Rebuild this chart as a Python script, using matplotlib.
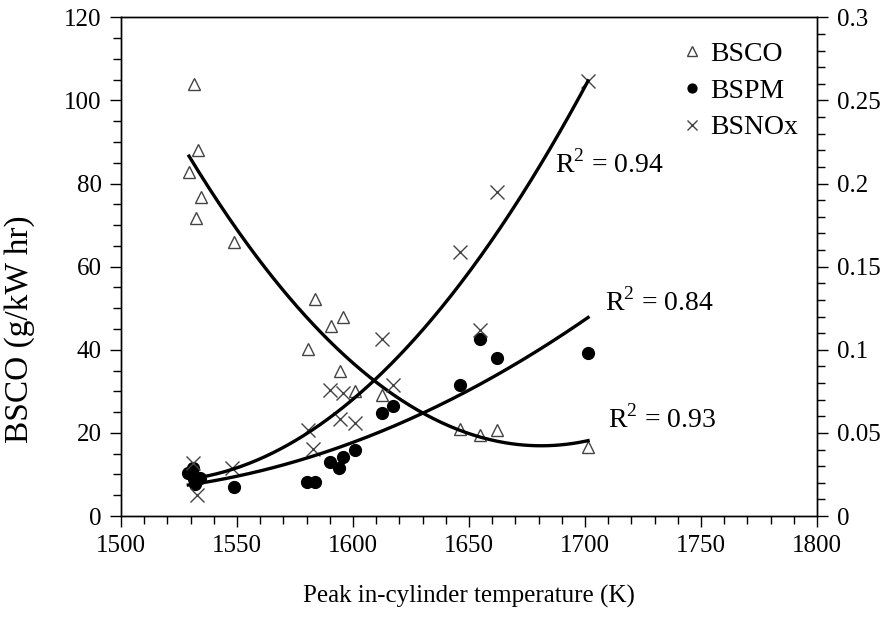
import numpy as np
import matplotlib
matplotlib.use("Agg")
import matplotlib.pyplot as plt
from matplotlib.ticker import MultipleLocator

plt.rcParams.update({
    "font.family": "Liberation Serif", "font.size": 18,
    "mathtext.fontset": "custom", "mathtext.rm": "Liberation Serif",
    "axes.linewidth": 1.0,
})

# BSCO (left axis, g/kW hr)
co_T = [1531.5, 1533.2, 1529.3, 1534.5, 1532.3, 1548.7, 1583.6, 1595.7, 1590.5,
        1580.6, 1594.4, 1600.9, 1612.5, 1646.1, 1654.7, 1662.0, 1701.3]
co_v = [103.9, 88.0, 82.7, 76.7, 71.7, 65.9, 52.2, 47.9, 45.7,
        40.2, 34.9, 30.1, 29.1, 20.9, 19.5, 20.7, 16.6]

# BSPM (right axis)
pm_T = [1529.0, 1531.0, 1532.0, 1534.0, 1531.5, 1548.7, 1580.2, 1583.6, 1590.0,
        1594.0, 1595.7, 1601.0, 1612.5, 1617.2, 1646.1, 1654.7, 1662.0, 1701.3]
pm_v = [0.026, 0.029, 0.019, 0.023, 0.022, 0.0174, 0.0204, 0.0206, 0.0325,
        0.0289, 0.0355, 0.0397, 0.062, 0.066, 0.0788, 0.1064, 0.095, 0.098]

# BSNOx (right axis)
nox_T = [1531.0, 1532.8, 1548.0, 1580.6, 1582.8, 1590.0, 1594.4, 1595.7, 1601.0,
         1612.5, 1617.2, 1646.1, 1654.7, 1662.0, 1701.3]
nox_v = [0.0319, 0.0126, 0.029, 0.0517, 0.0403, 0.0758, 0.0583, 0.074, 0.056,
         0.1064, 0.0788, 0.159, 0.1118, 0.1948, 0.2616]

r2_labels = ["R$^2$ = 0.94", "R$^2$ = 0.84", "R$^2$ = 0.93"]


def quad_fit(x, y):
    """2nd-order polynomial trendline over the data range."""
    x = np.asarray(x); y = np.asarray(y)
    c = np.polyfit(x, y, 2)
    xs = np.linspace(x.min(), x.max(), 200)
    return xs, np.polyval(c, xs)


fig, ax = plt.subplots(figsize=(8.92, 6.18), dpi=100)
fig.subplots_adjust(left=0.1357, right=0.916, top=0.972, bottom=0.165)
ax2 = ax.twinx()

ax.plot(co_T, co_v, "^", ms=9, mfc="white", mec="#444444", mew=1.0,
        ls="none", label="BSCO")
ax2.plot(pm_T, pm_v, "o", ms=8.5, color="black", ls="none", label="BSPM")
ax2.plot(nox_T, nox_v, "x", ms=10, color="#444444", mew=1.0, ls="none",
         label="BSNOx")

xs, ys = quad_fit(co_T, co_v)
ax.plot(xs, ys, color="black", lw=2.4)
xs, ys = quad_fit(pm_T, pm_v)
ax2.plot(xs, ys, color="black", lw=2.4)
xs, ys = quad_fit(nox_T, nox_v)
ax2.plot(xs, ys, color="black", lw=2.4)

ax.set_xlim(1500, 1800)
ax.set_ylim(0, 120)
ax2.set_ylim(0, 0.3)
ax.xaxis.set_major_locator(MultipleLocator(50))
ax.xaxis.set_minor_locator(MultipleLocator(10))
ax.yaxis.set_major_locator(MultipleLocator(20))
ax.yaxis.set_minor_locator(MultipleLocator(5))
ax2.set_yticks(np.arange(0, 0.31, 0.05))
ax2.set_yticklabels(["0", "0.05", "0.1", "0.15", "0.2", "0.25", "0.3"])
ax2.yaxis.set_minor_locator(MultipleLocator(0.01))

for a in (ax, ax2):
    a.tick_params(which="major", direction="out", length=8, width=1.0, pad=6)
    a.tick_params(which="minor", direction="out", length=6, width=1.0)

ax.set_xlabel("Peak in-cylinder temperature (K)", labelpad=20)
ax.set_ylabel("BSCO (g/kW hr)", fontsize=24)
ax.yaxis.set_label_coords(-0.124, 0.375)

ax.text(1687, 82.7, r2_labels[0], fontsize=20)
ax.text(1708.6, 49.5, r2_labels[1], fontsize=20)
ax.text(1710, 21.2, r2_labels[2], fontsize=20)

h1, l1 = ax.get_legend_handles_labels()
h2, l2 = ax2.get_legend_handles_labels()
ax2.legend(h1 + h2, l1 + l2, loc="upper right", frameon=False, fontsize=20,
           handlelength=0.5, handletextpad=0.4, labelspacing=0.4,
           markerscale=0.75, borderaxespad=0.3, bbox_to_anchor=(1.0, 0.99))

fig.savefig("out.png", dpi=100)
